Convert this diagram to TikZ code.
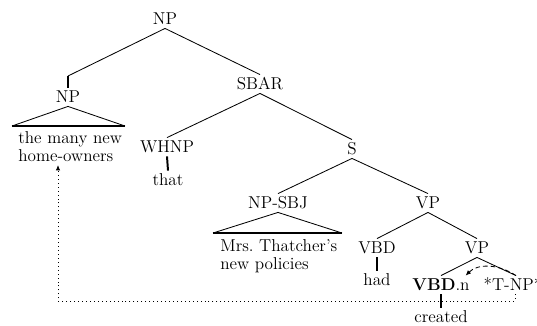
\documentclass[tikz,border=0pt]{standalone}
\usepackage{tikz}
\usetikzlibrary{positioning,arrows.meta,calc}

\begin{document}
\begin{tikzpicture}[
    x=0.6579pt, y=-0.6579pt,
    >=Latex,
    every node/.style={font=\fontsize{11.3pt}{12pt}\selectfont},
    cat/.style={
        inner sep=2.2pt, text height=7.6pt, text depth=0pt
    },
    leaves/.style={
        inner sep=2pt, align=left, anchor=north west
    },
    branch/.style={line width=0.55pt},
    stub/.style={line width=1.3pt},
    trace/.style={->, densely dashed, line width=0.55pt, >={Latex[length=3.5pt,width=3pt]}},
    moved/.style={->, dotted, line width=0.6pt, >={Latex[length=3.5pt,width=3pt]}}
]
\useasboundingbox (0,0) rectangle (537,325);

% Category nodes
\node[cat] (np) at (165,19) {NP};
\node[cat] (npL) at (68,97) {NP};
\node[cat] (sbar) at (260,84) {SBAR};
\node[cat] (whnp) at (167,147) {WHNP};
\node[cat] (s) at (352,149) {S};
\node[cat] (npsbj) at (278,203) {NP-SBJ};
\node[cat] (vp) at (428,203) {VP};
\node[cat] (vbd) at (377,248) {VBD};
\node[cat] (vpb) at (477,248) {VP};
\node[cat] (vbdn) at (441,285) {\textbf{VBD}.n};
\node[cat, anchor=west] (tnp) at (480,285) {*T-NP*};

% Words
\node[cat] (that) at (168,180) {that};
\node[cat] (had) at (377,280) {had};
\node[cat] (created) at (441,317) {created};
\node[leaves] (leafA) at (15,128) {the many new\\home-owners};
\node[leaves] (leafB) at (217,236) {Mrs.\ Thatcher's\\new policies};

% Branches
\coordinate (npStub) at (68,76);
\draw[branch] (np.south) -- (npStub);
\draw[stub] (npStub) -- (npL.north);
\draw[branch] (np.south) -- (sbar.north);
\draw[branch] (sbar.south) -- (whnp.north);
\draw[branch] (sbar.south) -- (s.north);
\draw[branch] (s.south) -- (npsbj.north);
\draw[branch] (s.south) -- (vp.north);
\draw[branch] (vp.south) -- (vbd.north);
\draw[branch] (vp.south) -- (vpb.north);
\draw[branch] (vpb.south) -- (vbdn.north);
\draw[branch] (vpb.south) -- ([xshift=2pt]tnp.north);

% Unary stubs
\draw[stub] (whnp.south) -- (that.north);
\draw[stub] (vbd.south) -- (had.north);
\draw[stub] (vbdn.south) -- (created.north);

% Roofs
\coordinate (roofAl) at (12,126);
\coordinate (roofAr) at (125,126);
\draw[branch] (roofAl) -- (npL.south) -- (roofAr);
\draw[stub] (roofAl) -- (roofAr);
\coordinate (roofBl) at (213,233);
\coordinate (roofBr) at (342,233);
\draw[branch] (roofBl) -- (npsbj.south) -- (roofBr);
\draw[stub] (roofBl) -- (roofBr);

% Trace links
\draw[trace] ([xshift=2pt]tnp.north) .. controls +(-18,-12) and +(12,-12) .. ([xshift=-5pt]vbdn.north east);
\coordinate (dotR) at (515,301);
\coordinate (dotL) at (58,301);
\draw[moved] (tnp.south -| dotR) -- (dotR) -- (dotL) -- (dotL |- leafA.south);

\end{tikzpicture}
\end{document}
